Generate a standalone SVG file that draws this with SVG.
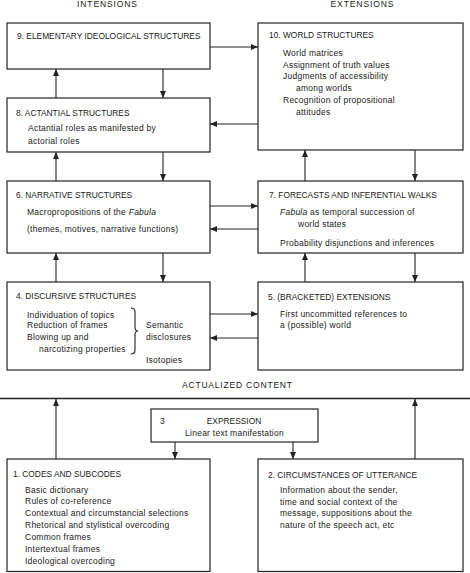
<svg xmlns="http://www.w3.org/2000/svg" width="470" height="573" viewBox="0 0 470 573">
<style>
.box{fill:#fff;stroke:#222;stroke-width:1.2}
.ln{fill:none;stroke:#222;stroke-width:1.1}
.arr{fill:none;stroke:#222;stroke-width:1.1;marker-end:url(#ah)}
text{font-family:"Liberation Sans",Arial,sans-serif;fill:#1a1a1a}
.h{font-size:8.4px}
.b{font-size:8.5px;letter-spacing:0.25px}
.t{font-size:8.5px}
</style>
<defs>
<marker id="ah" markerUnits="userSpaceOnUse" markerWidth="8" markerHeight="8" viewBox="0 0 8 8" refX="7" refY="4" orient="auto">
<path d="M0,1 L7,4 L0,7 Z" fill="#222"/>
</marker>
</defs>
<rect width="470" height="573" fill="#fff"/>

<text class="t" x="107" y="7" text-anchor="middle" textLength="60" lengthAdjust="spacing">INTENSIONS</text>
<text class="t" x="362" y="7" text-anchor="middle" textLength="63" lengthAdjust="spacing">EXTENSIONS</text>
<text class="t" x="237" y="388" text-anchor="middle" textLength="110" lengthAdjust="spacing">ACTUALIZED CONTENT</text>

<g id="connectors">
<path class="arr" d="M56,98 V69"/>
<path class="arr" d="M163,69 V98"/>
<path class="arr" d="M210,47 H258"/>
<path class="arr" d="M258,124 H210"/>
<path class="arr" d="M56,181 V152"/>
<path class="arr" d="M163,152 V181"/>
<path class="arr" d="M305,181 V150"/>
<path class="arr" d="M415,150 V181"/>
<path class="arr" d="M210,206 H258"/>
<path class="arr" d="M258,229 H210"/>
<path class="arr" d="M56,282 V253"/>
<path class="arr" d="M163,253 V282"/>
<path class="arr" d="M305,282 V253"/>
<path class="arr" d="M415,253 V282"/>
<path class="arr" d="M210,314 H258"/>
<path class="arr" d="M258,338 H210"/>
<path class="ln" d="M0,398.5 H470" style="stroke-width:1.4"/>
<path class="arr" d="M56,459 V399"/>
<path class="arr" d="M415,459 V399"/>
<path class="arr" d="M175,442 V459"/>
<path class="arr" d="M293,442 V459"/>
</g>

<g id="node9">
<rect class="box" x="7" y="23" width="203" height="46"/>
<text class="h" x="17" y="38.5">9. ELEMENTARY IDEOLOGICAL STRUCTURES</text>
</g>

<g id="node10">
<rect class="box" x="258" y="23" width="205" height="127"/>
<text class="h" x="269" y="38">10. WORLD STRUCTURES</text>
<text class="b" x="283" y="55.5">World matrices</text>
<text class="b" x="283" y="67.5">Assignment of truth values</text>
<text class="b" x="283" y="79">Judgments of accessibility</text>
<text class="b" x="296" y="91">among worlds</text>
<text class="b" x="283" y="102.5">Recognition of propositional</text>
<text class="b" x="296" y="115">attitudes</text>
</g>

<g id="node8">
<rect class="box" x="7" y="98" width="203" height="54"/>
<text class="h" x="16" y="115.5">8. ACTANTIAL STRUCTURES</text>
<text class="b" x="28" y="130.5">Actantial roles as manifested by</text>
<text class="b" x="28" y="144">actorial roles</text>
</g>

<g id="node6">
<rect class="box" x="7" y="181" width="203" height="72"/>
<text class="h" x="16" y="197.5">6. NARRATIVE STRUCTURES</text>
<text class="b" x="27" y="214.5">Macropropositions of the <tspan font-style="italic">Fabula</tspan></text>
<text class="b" x="27" y="232">(themes, motives, narrative functions)</text>
</g>

<g id="node7">
<rect class="box" x="258" y="181" width="205" height="72"/>
<text class="h" x="269" y="197.5">7. FORECASTS AND INFERENTIAL WALKS</text>
<text class="b" x="280" y="215"><tspan font-style="italic">Fabula</tspan> as temporal succession of</text>
<text class="b" x="298" y="227">world states</text>
<text class="b" x="280" y="245.5">Probability disjunctions and inferences</text>
</g>

<g id="node4">
<rect class="box" x="7" y="282" width="203" height="88"/>
<text class="h" x="16" y="298.5">4. DISCURSIVE STRUCTURES</text>
<text class="b" x="27" y="317.5">Individuation of topics</text>
<text class="b" x="27" y="328">Reduction of frames</text>
<text class="b" x="27" y="339.5">Blowing up and</text>
<text class="b" x="39" y="352">narcotizing properties</text>
<path class="ln" d="M131,308 Q135,308 135,312 L135,327 Q135,331 138,331 Q135,331 135,335 L135,350 Q135,354 131,354"/>
<text class="b" x="146" y="327.5">Semantic</text>
<text class="b" x="146" y="340">disclosures</text>
<text class="b" x="146" y="363">Isotopies</text>
</g>

<g id="node5">
<rect class="box" x="258" y="282" width="205" height="88"/>
<text class="h" x="268" y="299.5">5. (BRACKETED) EXTENSIONS</text>
<text class="b" x="280" y="316.5">First uncommitted references to</text>
<text class="b" x="280" y="327.5">a (possible) world</text>
</g>

<g id="node3">
<rect class="box" x="151" y="409" width="167" height="33"/>
<text class="h" x="160" y="423.5">3</text>
<text class="h" x="234" y="423.5" text-anchor="middle">EXPRESSION</text>
<text class="b" x="234.5" y="435.5" text-anchor="middle">Linear text manifestation</text>
</g>

<g id="node1">
<rect class="box" x="7" y="459" width="203" height="112.5"/>
<text class="h" x="13" y="476.5">1. CODES AND SUBCODES</text>
<text class="b" x="25" y="492.5">Basic dictionary</text>
<text class="b" x="25" y="503.5">Rules of co-reference</text>
<text class="b" x="25" y="515.5">Contextual and circumstancial selections</text>
<text class="b" x="25" y="527.5">Rhetorical and stylistical overcoding</text>
<text class="b" x="25" y="539.5">Common frames</text>
<text class="b" x="25" y="551.5">Intertextual frames</text>
<text class="b" x="25" y="563.5">Ideological overcoding</text>
</g>

<g id="node2">
<rect class="box" x="258" y="459" width="205" height="112.5"/>
<text class="h" x="268" y="477.5">2. CIRCUMSTANCES OF UTTERANCE</text>
<text class="b" x="280" y="492.5">Information about the sender,</text>
<text class="b" x="280" y="504.5">time and social context of the</text>
<text class="b" x="280" y="515.5">message, suppositions about the</text>
<text class="b" x="280" y="527.5">nature of the speech act, etc</text>
</g>
</svg>
